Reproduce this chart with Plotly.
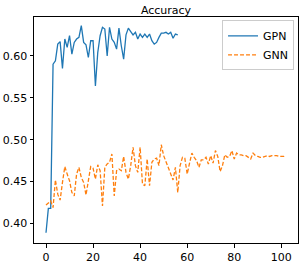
import plotly.graph_objects as go

gpn_acc = [0.389, 0.418, 0.418, 0.590, 0.594, 0.614, 0.617, 0.585, 0.620, 0.610,
           0.624, 0.602, 0.616, 0.620, 0.622, 0.636, 0.616, 0.613, 0.598, 0.618,
           0.618, 0.564, 0.604, 0.624, 0.634, 0.632, 0.600, 0.634, 0.620, 0.616,
           0.608, 0.633, 0.612, 0.596, 0.625, 0.633, 0.629, 0.625, 0.628, 0.620,
           0.626, 0.622, 0.626, 0.622, 0.626, 0.618, 0.614, 0.616, 0.622, 0.627,
           0.627, 0.628, 0.626, 0.628, 0.621, 0.626, 0.625]
gnn_acc = [0.422, 0.424, 0.427, 0.419, 0.452, 0.435, 0.428, 0.449, 0.468, 0.459,
           0.451, 0.437, 0.433, 0.459, 0.467, 0.455, 0.449, 0.434, 0.453, 0.468,
           0.466, 0.453, 0.470, 0.463, 0.421, 0.467, 0.471, 0.473, 0.483, 0.433,
           0.463, 0.465, 0.463, 0.480, 0.461, 0.453, 0.469, 0.491, 0.469, 0.461,
           0.491, 0.447, 0.445, 0.477, 0.445, 0.473, 0.477, 0.478, 0.469, 0.494,
           0.481, 0.474, 0.465, 0.459, 0.452, 0.467, 0.437, 0.469, 0.479, 0.478,
           0.459, 0.472, 0.484, 0.479, 0.475, 0.467, 0.476, 0.476, 0.479, 0.471,
           0.481, 0.472, 0.487, 0.480, 0.462, 0.469, 0.482, 0.479, 0.480, 0.487,
           0.477, 0.484, 0.482, 0.482, 0.481, 0.481, 0.479, 0.477, 0.484, 0.481,
           0.480, 0.479, 0.479, 0.480, 0.481, 0.480, 0.481, 0.481, 0.481, 0.480,
           0.480, 0.480, 0.481]
gpn_epochs = list(range(len(gpn_acc)))
gnn_epochs = list(range(len(gnn_acc)))
x_ticks = [0, 20, 40, 60, 80, 100]
y_ticks = [0.40, 0.45, 0.50, 0.55, 0.60]
y_tick_labels = ["0.40", "0.45", "0.50", "0.55", "0.60"]

font = "DejaVu Sans, Liberation Sans, sans-serif"

fig = go.Figure()
fig.add_trace(go.Scatter(x=gpn_epochs, y=gpn_acc, mode="lines", name="GPN",
                         line=dict(color="#1f77b4", width=1.3)))
fig.add_trace(go.Scatter(x=gnn_epochs, y=gnn_acc, mode="lines", name="GNN",
                         line=dict(color="#ff7f0e", width=1.3, dash="4px,2px")))

axis_common = dict(showline=True, linecolor="black", linewidth=1, mirror=True,
                   ticks="outside", ticklen=3.5, tickwidth=1, tickcolor="black",
                   showgrid=False, zeroline=False, automargin=False,
                   tickfont=dict(family=font, size=11, color="black"))
fig.update_xaxes(range=[-5.1, 107.1], tickvals=x_ticks, **axis_common)
fig.update_yaxes(range=[0.3768, 0.6463], tickvals=y_ticks, ticktext=y_tick_labels,
                 **axis_common)

fig.update_layout(
    width=304, height=264,
    margin=dict(l=34, r=6, t=17, b=21, autoexpand=False),
    paper_bgcolor="white", plot_bgcolor="white",
    title=dict(text="Accuracy", x=0.5, xanchor="center", xref="paper",
               y=1 - 10 / 264, yref="container", yanchor="middle",
               font=dict(family=font, size=11, color="black")),
    legend=dict(x=0.985, y=0.985, xanchor="right", yanchor="top",
                bordercolor="#cccccc", borderwidth=1, bgcolor="rgba(255,255,255,0.8)",
                font=dict(family=font, size=11, color="black"),
                itemwidth=30, tracegroupgap=0),
    showlegend=True,
)

fig.write_html("out.html", config={"displayModeBar": False},
               post_script="document.body.style.margin='0';document.body.style.padding='0';")
